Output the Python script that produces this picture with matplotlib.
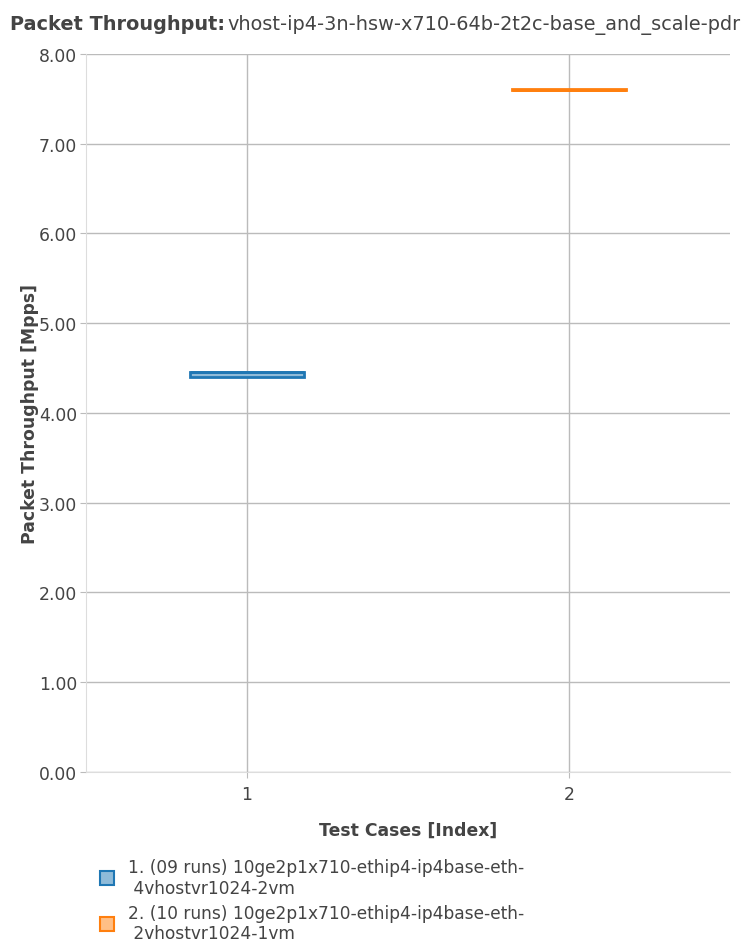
import matplotlib
matplotlib.use('Agg')
import matplotlib.pyplot as plt
from matplotlib.lines import Line2D

# box statistics (Mpps)
cases = [1, 2]
q1 = [4.40, 7.60]
med = [4.46, 7.60]
q3 = [4.46, 7.61]
low = [4.40, 7.60]
high = [4.46, 7.61]
labels = ['1. (09 runs) 10ge2p1x710-ethip4-ip4base-eth-\n 4vhostvr1024-2vm',
          '2. (10 runs) 10ge2p1x710-ethip4-ip4base-eth-\n 2vhostvr1024-1vm']
colors = ['#1f77b4', '#ff7f0e']
fills = ['#8fbbd9', '#ffbf86']

txt = '#444444'
fs = 12.4
plt.rcParams['font.family'] = ['DejaVu Sans']

fig = plt.figure(figsize=(7.47, 9.45), dpi=100)
ax = fig.add_axes([0.115, 0.182, 0.862, 0.760])

for i, c in enumerate(cases):
    st = [{'med': med[i], 'q1': q1[i], 'q3': q3[i], 'whislo': low[i], 'whishi': high[i], 'fliers': []}]
    ax.bxp(st, positions=[c], widths=0.355, patch_artist=True, showcaps=False,
           boxprops=dict(facecolor=fills[i], edgecolor=colors[i], linewidth=2),
           medianprops=dict(color=colors[i], linewidth=2),
           whiskerprops=dict(color=colors[i], linewidth=2), zorder=3)

ax.set_xlim(0.5, 2.5)
ax.set_ylim(0, 8)
ax.set_xticks(cases)
ax.set_xticklabels([str(c) for c in cases])
ax.set_yticks(range(0, 9))
ax.set_yticklabels(['%.2f' % v for v in range(0, 9)])
ax.grid(True, color='#bbbbbb', linewidth=1)
ax.set_axisbelow(True)
for s in ['top', 'right']:
    ax.spines[s].set_visible(False)
for s in ['left', 'bottom']:
    ax.spines[s].set_color('#dddddd')
ax.tick_params(colors='#bbbbbb', labelcolor=txt, labelsize=fs, length=4.5)
ax.tick_params(axis='x', pad=5)
ax.tick_params(axis='y', pad=2)
ax.set_xlabel('Test Cases [Index]', fontsize=fs, fontweight='bold', color=txt, labelpad=13)
ax.set_ylabel('Packet Throughput [Mpps]', fontsize=fs, fontweight='bold', color=txt, labelpad=0)

fig.text(0.013, 0.974, 'Packet Throughput:', fontsize=13.9, fontweight='bold', color=txt, va='center')
fig.text(0.991, 0.974, 'vhost-ip4-3n-hsw-x710-64b-2t2c-base_and_scale-pdr', fontsize=13.9,
         color=txt, va='center', ha='right')

handles = [Line2D([], [], marker='s', linestyle='none', markersize=10, markerfacecolor=fills[i],
                  markeredgecolor=colors[i], markeredgewidth=1.5) for i in range(len(cases))]
fig.legend(handles, labels, loc='upper left', bbox_to_anchor=(0.12, 0.1), frameon=False,
           fontsize=12.25, labelcolor=txt, handletextpad=0.75, handlelength=1.0,
           labelspacing=0.4, borderpad=0)

fig.savefig('out.png', dpi=100)
